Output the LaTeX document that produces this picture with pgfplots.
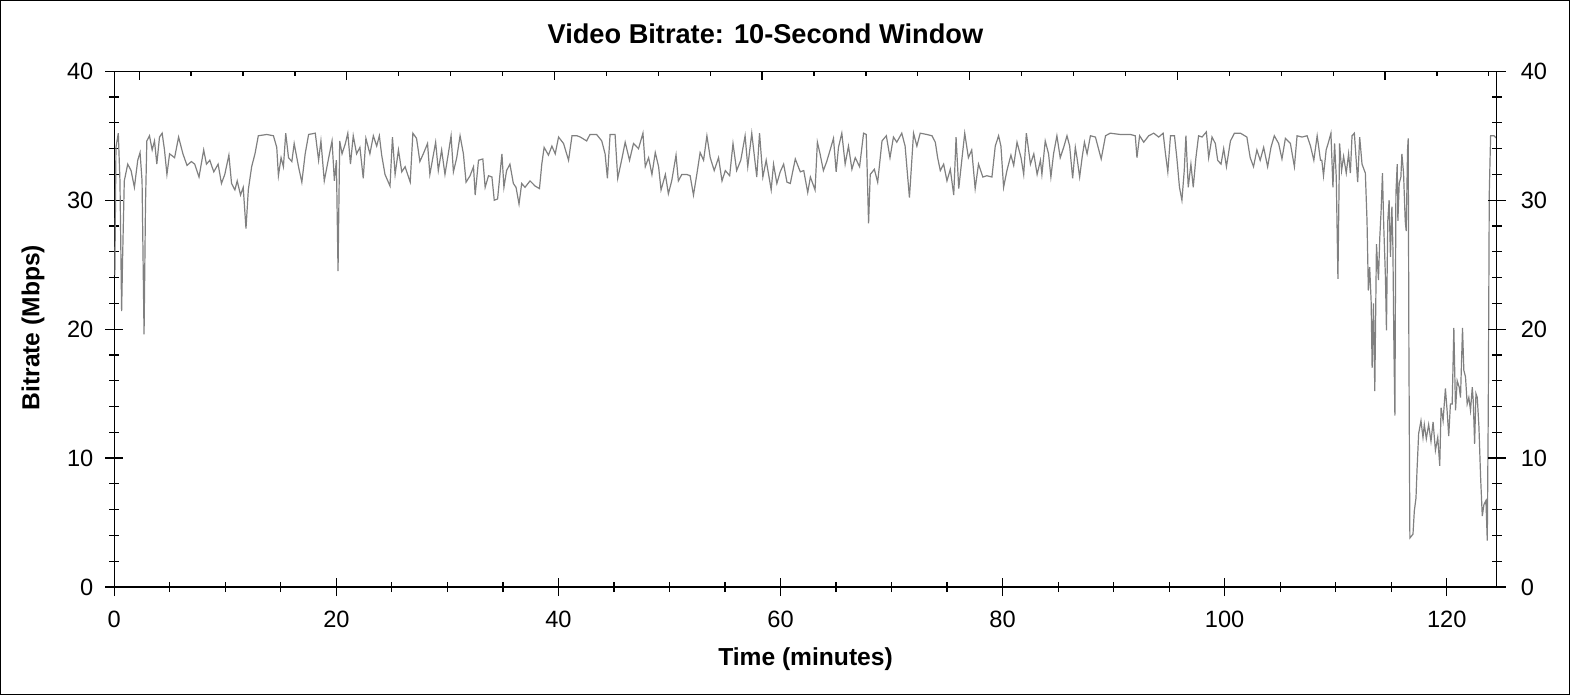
\documentclass[border=0pt]{standalone}
\usepackage{fontspec}
\setmainfont{Liberation Sans}
\usepackage{pgfplots}
\pgfplotsset{compat=1.18}

\begin{document}
\begin{tikzpicture}
  \useasboundingbox (-57.15bp,-54bp) rectangle (727.85bp,293.5bp);
  \draw[line width=0.5bp] (-56.9bp,-53.75bp) rectangle (727.6bp,293.25bp);

  % main axis: data, bottom and left lines
  \begin{axis}[
      at={(0,0)}, anchor=south west,
      scale only axis, width=691.2bp, height=257.85bp,
      xmin=0, xmax=124.5, ymin=0, ymax=40,
      axis x line*=bottom, axis y line*=left,
      axis line style={-, black, line width=0.6bp},
      xtick={0,20,...,120}, minor x tick num=3,
      ytick={0,10,...,40}, minor y tick num=4,
      tick align=center, major tick length=9bp, minor tick length=5bp,
      every tick/.style={black, line width=0.6bp},
      tick label style={font=\fontsize{11.8bp}{13bp}\selectfont},
      xticklabel style={yshift=-4bp},
      yticklabel style={xshift=-2.5bp},
      /pgf/number format/assume math mode=true,
      title={Video Bitrate: 10-Second Window},
      title style={at={(axis description cs:0.471,1.0504)}, anchor=center,
        font=\bfseries\fontsize{13.6bp}{16bp}\selectfont},
      xlabel={Time (minutes)},
      xlabel style={at={(axis description cs:0.5,-0.1396)}, anchor=center,
        font=\bfseries\fontsize{12.3bp}{14bp}\selectfont},
      ylabel={Bitrate (Mbps)},
      ylabel style={at={(axis description cs:-0.0588,0.503)}, anchor=center,
        font=\bfseries\fontsize{12.3bp}{14bp}\selectfont},
    ]
    \addplot[color=gray, line width=0.6bp, mark=none] coordinates {
      (0.05,24.2) (0.15,34.1) (0.36,35.2) (0.51,31.5) (0.66,21.4) (0.75,25.6)
      (0.9,31.5) (1.21,32.8) (1.51,32.3) (1.81,31) (2.11,33.1) (2.32,33.7)
      (2.5,31.5) (2.68,19.6) (2.81,29.7) (2.93,34.6) (3.17,35) (3.41,33.9)
      (3.62,34.6) (3.83,32.8) (4.07,34.9) (4.31,35.2) (4.52,33.9) (4.74,32)
      (4.98,33.6) (5.43,33.3) (5.79,34.9) (6.18,33.6) (6.55,32.7) (6.94,33)
      (7.24,32.8) (7.63,31.8) (8.05,33.9) (8.3,32.8) (8.6,33.1) (8.96,32.2)
      (9.35,32.8) (9.65,31.3) (9.95,32) (10.32,33.5) (10.56,31.3) (10.86,30.8)
      (11.07,31.5) (11.37,30.4) (11.61,31) (11.86,27.8) (12.07,30.8) (12.37,32.6)
      (12.67,33.6) (12.97,35) (13.73,35.1) (14.33,35) (14.63,34.1) (14.78,31.9)
      (15.02,33.3) (15.23,32.6) (15.44,35.2) (15.69,33.3) (15.99,33) (16.2,34.4)
      (16.59,32.6) (16.89,31.4) (17.19,33.6) (17.5,35.1) (18.1,35.2) (18.4,33.1)
      (18.61,34.6) (18.91,31.5) (19.31,33.3) (19.61,34.6) (19.82,31.5) (20.0,33.1)
      (20.15,24.5) (20.3,34.6) (20.51,33.6) (20.81,34.4) (21.03,35.2) (21.27,32.8)
      (21.52,35) (21.82,33.6) (22.12,34.1) (22.42,31.7) (22.66,34.8) (23.02,33.6)
      (23.33,35) (23.63,34.2) (23.87,35) (24.08,33.5) (24.38,32) (24.83,31.1)
      (25.05,34.9) (25.29,32) (25.59,33.9) (25.89,32.2) (26.19,32.6) (26.65,31.4)
      (26.89,35.2) (27.22,34.8) (27.52,33) (27.88,33.7) (28.21,34.4) (28.42,32)
      (28.94,34.5) (29.18,32.3) (29.48,33.9) (29.78,32) (30.08,33.6) (30.33,35)
      (30.54,32.2) (30.84,33.3) (31.14,35) (31.44,33.6) (31.68,31.4) (32.04,31.9)
      (32.35,32.6) (32.5,30.4) (32.8,33.1) (33.19,33.2) (33.4,31) (33.7,31.9)
      (34.01,31.8) (34.22,30) (34.52,30.1) (34.91,33.6) (35.09,31) (35.33,32.3)
      (35.63,32.8) (35.94,31.3) (36.18,31) (36.45,29.7) (36.69,31.3) (36.99,31)
      (37.44,31.5) (37.9,31.1) (38.29,30.9) (38.5,32.8) (38.71,34.1) (39.1,33.5)
      (39.41,34.2) (39.71,33.6) (40.01,34.9) (40.46,34.4) (40.91,33.1) (41.22,35)
      (41.67,35) (41.97,34.9) (42.54,34.6) (42.84,35.1) (43.44,35.1) (43.9,34.6)
      (44.2,33.6) (44.41,31.7) (44.65,35.1) (45.1,35.1) (45.34,31.7) (45.71,33.2)
      (46.01,34.5) (46.4,33.1) (46.76,34.4) (47.21,34) (47.61,35.2) (47.82,32.6)
      (48.12,33.3) (48.42,32) (48.72,33.7) (49.02,32.6) (49.24,30.8) (49.63,32)
      (49.9,30.5) (50.2,31.5) (50.59,33.5) (50.8,31.5) (51.11,32) (51.56,32)
      (51.86,31.9) (52.16,30.4) (52.46,32) (52.76,33.7) (53.07,33.1) (53.37,35)
      (53.67,33.3) (54.03,32.3) (54.42,33.3) (54.73,31.5) (55.03,32.3) (55.42,31.9)
      (55.72,34.4) (56.05,32.3) (56.42,33.1) (56.81,35) (57.05,32.6) (57.41,35.2)
      (57.86,31.8) (58.11,35.2) (58.41,31.8) (58.71,33.1) (59.16,30.8) (59.37,32.8)
      (59.67,31.3) (59.97,32.2) (60.28,32.8) (60.58,31.4) (60.88,31.3) (61.33,33.2)
      (61.78,32.2) (62.09,32.3) (62.45,30.6) (62.69,31.8) (63.11,30.8) (63.32,34.5)
      (63.56,33.6) (63.86,32.3) (64.16,33) (64.47,33.9) (64.77,34.8) (65.01,32.2)
      (65.22,34.1) (65.52,35.2) (65.82,32.8) (66.12,34.2) (66.43,32.4) (66.73,33.3)
      (67.12,32.6) (67.48,35.2) (67.72,35.1) (67.93,28.2) (68.08,32) (68.45,32.4)
      (68.75,31.4) (69.14,34.6) (69.53,35) (69.86,33.3) (70.17,34.9) (70.47,34.5)
      (70.92,35.2) (71.22,34.2) (71.61,30.2) (71.98,35.2) (72.28,34.2) (72.58,35.2)
      (73.18,35.1) (73.64,35) (73.94,34.5) (74.15,33.3) (74.39,32.3) (74.69,32.8)
      (74.99,31.5) (75.29,32.4) (75.6,30.4) (75.81,34.9) (76.05,30.9) (76.35,33.3)
      (76.59,35.2) (76.92,33.3) (77.22,33.9) (77.53,30.9) (77.83,32.8) (78.22,31.8)
      (78.58,31.9) (79.04,31.8) (79.34,34.2) (79.64,35) (79.85,34.2) (80.09,31)
      (80.39,32.3) (80.75,33.5) (81.0,32.7) (81.3,34.5) (81.66,33.3) (81.9,32)
      (82.14,35.2) (82.51,32.8) (82.81,33.6) (83.11,32) (83.41,33.1) (83.54,32)
      (83.84,34.6) (84.14,33.6) (84.35,31.8) (84.59,33.6) (84.89,35) (85.19,33.3)
      (85.5,34.1) (85.8,35) (86.04,34.2) (86.31,31.7) (86.55,34.1) (86.7,33.3)
      (86.94,31.8) (87.16,33.3) (87.37,34.5) (87.61,33.6) (87.91,35) (88.36,34.9)
      (88.88,33.2) (89.27,35) (89.69,35.2) (90.59,35.1) (91.5,35.1) (91.95,35)
      (92.1,33.3) (92.34,35) (92.71,34.5) (93.16,35) (93.61,35.2) (94.06,34.9)
      (94.46,35.2) (94.67,33.6) (94.88,32.2) (95.12,35) (95.48,35) (95.69,33.3)
      (95.93,31) (96.15,30) (96.36,32.3) (96.51,35) (96.72,31) (96.96,32.8)
      (97.17,31) (97.41,33.3) (97.65,35) (97.96,34.9) (98.35,35.3) (98.56,33.3)
      (98.86,34.9) (99.16,34.4) (99.37,33.1) (99.67,32.8) (99.91,34) (100.16,32.6)
      (100.52,34.6) (100.88,35.2) (101.42,35.2) (102.0,34.9) (102.3,33.3) (102.6,32.6)
      (102.9,33.9) (103.2,33.1) (103.51,34.1) (103.87,32.6) (104.17,34.1) (104.47,35)
      (104.86,34.4) (105.16,33.2) (105.47,34.8) (105.92,34.4) (106.28,32.6) (106.52,35)
      (106.97,34.9) (107.42,35) (107.73,34.2) (108.03,33.1) (108.33,35) (108.63,33.1)
      (108.75,33.1) (108.9,31.9) (109.14,33.9) (109.35,34.5) (109.57,35.2) (109.75,31)
      (109.9,34.4) (110.05,31.8) (110.2,23.9) (110.35,34.4) (110.53,32.3) (110.71,33.4)
      (110.95,32.1) (111.16,33.6) (111.32,32.1) (111.47,35) (111.68,35.2) (111.98,31.4)
      (112.16,34.9) (112.37,32.8) (112.67,32.1) (112.82,28.4) (112.94,23) (113.06,24.8)
      (113.19,22.2) (113.28,17) (113.4,22) (113.52,15.2) (113.67,26.6) (113.85,23.8)
      (113.97,27.1) (114.09,29.2) (114.21,32.1) (114.33,27.9) (114.48,24) (114.57,19.9)
      (114.69,28.4) (114.81,30) (114.93,25.6) (115.06,29.5) (115.15,26.4) (115.24,18.8)
      (115.33,13.3) (115.42,30.5) (115.54,32.8) (115.6,28.4) (115.72,31.3) (115.87,31.8)
      (115.96,33.6) (116.11,32.1) (116.26,28.4) (116.35,27.6) (116.47,33.9) (116.53,34.8)
      (116.59,18.8) (116.68,3.8) (116.96,4.1) (117.08,5.9) (117.23,6.9) (117.32,9)
      (117.47,11.9) (117.68,12.9) (117.86,11.6) (117.98,12.6) (118.16,11.5) (118.37,12.6)
      (118.58,11.3) (118.77,12.8) (118.98,10.6) (119.19,11.6) (119.37,9.4) (119.49,13.9)
      (119.67,12.9) (119.88,15.4) (120.03,13.7) (120.18,11.7) (120.33,14.2) (120.49,14.2)
      (120.64,20.1) (120.79,13.7) (120.94,16) (121.12,15.5) (121.24,14.7) (121.42,20.1)
      (121.54,16.8) (121.69,16.3) (121.84,14.2) (121.99,14.7) (122.14,13.7) (122.3,15.5)
      (122.39,14.4) (122.51,11.1) (122.63,15) (122.75,14.7) (122.9,12.4) (123.05,8.5)
      (123.2,5.5) (123.35,6.4) (123.53,6.7) (123.65,3.6) (123.74,13.7) (123.83,30.5)
      (123.95,35) (124.25,35) (124.5,34.8)
    };
  \end{axis}

  % right axis: line, ticks and labels
  \begin{axis}[
      at={(0,0)}, anchor=south west,
      scale only axis, width=691.2bp, height=257.85bp,
      xmin=0, xmax=124.5, ymin=0, ymax=40,
      hide x axis, axis y line*=right,
      axis line style={-, black, line width=0.6bp},
      ytick={0,10,...,40}, minor y tick num=4,
      tick align=center, major tick length=9bp, minor tick length=5bp,
      every tick/.style={black, line width=0.6bp},
      tick label style={font=\fontsize{11.8bp}{13bp}\selectfont},
      yticklabel style={xshift=4bp},
      /pgf/number format/assume math mode=true,
    ]
  \end{axis}

  % top axis: line and inward ticks, no labels
  \begin{axis}[
      at={(0,0)}, anchor=south west,
      scale only axis, width=691.2bp, height=257.85bp,
      xmin=0, xmax=124.5, ymin=0, ymax=40,
      hide y axis, axis x line*=top,
      axis line style={-, black, line width=0.6bp},
      xtick={2.24,20.94,39.64,58.34,77.04,95.74,114.44}, xticklabels={},
      minor xtick={6.915,11.59,16.265,25.615,30.29,34.965,44.315,48.99,53.665,
        63.015,67.69,72.365,81.715,86.39,91.065,100.415,105.09,109.765,119.115,123.79},
      tick align=inside, major tick length=4.5bp, minor tick length=2.2bp,
      every tick/.style={black, line width=0.6bp},
    ]
  \end{axis}
\end{tikzpicture}
\end{document}
